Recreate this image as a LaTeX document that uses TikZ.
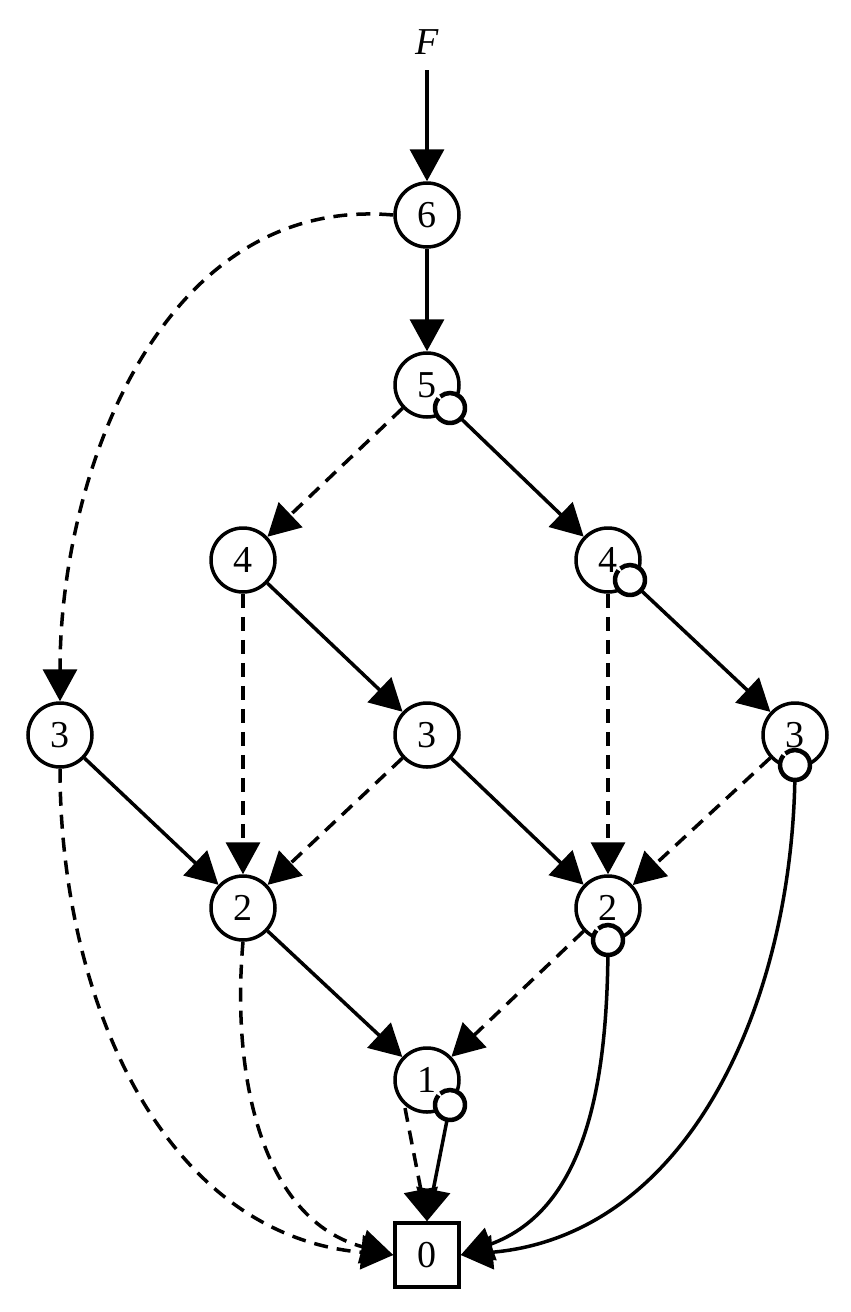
\documentclass[tikz,border=0pt]{standalone}
\usepackage{fontspec}
\setmainfont{Liberation Serif}
\usetikzlibrary{arrows.meta}
\begin{document}
\begin{tikzpicture}[x=1pt,y=-1pt,line width=3.5pt,
  nd/.style={circle,draw,fill=white,minimum size=64pt,inner sep=0pt,font=\fontsize{38}{38}\selectfont},
  tm/.style={rectangle,draw,fill=white,minimum size=64pt,inner sep=0pt,font=\fontsize{38}{38}\selectfont},
  ar/.style={-{Triangle[width=34pt,length=32pt]}},
  ds/.style={ar,dash pattern=on 14pt off 9pt},
  so/.style={ar}]
\useasboundingbox (0,0) rectangle (851,1312);
\node[font=\fontsize{38}{38}\selectfont\itshape] (F) at (427,42) {F};
\coordinate (Fs) at (427,70);
\node[nd] (n6) at (427,215) {6};
\node[nd] (n5) at (427,385) {5};
\node[nd] (n4a) at (243,560) {4};
\node[nd] (n4b) at (608,560) {4};
\node[nd] (n3a) at (60,735) {3};
\node[nd] (n3b) at (427,735) {3};
\node[nd] (n3c) at (795,735) {3};
\node[nd] (n2a) at (243,908) {2};
\node[nd] (n2b) at (608,908) {2};
\node[nd] (n1) at (427,1080) {1};
\node[tm] (z) at (427,1255) {0};
\coordinate (c5) at (450,408);
\coordinate (c4) at (630,580);
\coordinate (c3) at (795,765);
\coordinate (c2) at (608,940);
\coordinate (c1) at (450,1105);
\draw[so] (Fs) -- (n6);
\draw[so] (n6) -- (n5);
\draw[ds] (n6.west) to[out=175,in=90] (n3a.north);
\draw[ds] (n5) -- (n4a);
\draw[so] (c5) -- (n4b);
\draw[ds] (n4a) -- (n2a);
\draw[so] (n4a) -- (n3b);
\draw[ds] (n4b) -- (n2b);
\draw[so] (c4) -- (n3c);
\draw[so] (n3a) -- (n2a);
\draw[ds] (n3a.south) to[out=-90,in=175] (z.west);
\draw[ds] (n3b) -- (n2a);
\draw[so] (n3b) -- (n2b);
\draw[ds] (n3c) -- (n2b);
\draw[so] (c3) to[out=-90,in=5] (z.east);
\draw[so] (n2a) -- (n1);
\draw[ds] (n2a.south) to[out=-95,in=165] (z.west);
\draw[ds] (n2b) -- (n1);
\draw[so] (c2) to[out=-90,in=20] (z.east);
\draw[ds] (405,1108) -- (z.north);
\draw[so] (c1) -- (z.north);
\foreach \c in {c5,c4,c3,c2,c1}{
  \fill[white] (\c) circle (14);
  \draw[line width=4.5pt] (\c) ++(220:15) arc (220:-130:15);
}
\foreach \c/\t in {c5/n4b,c4/n3c,c1/z}{}
\end{tikzpicture}
\end{document}
